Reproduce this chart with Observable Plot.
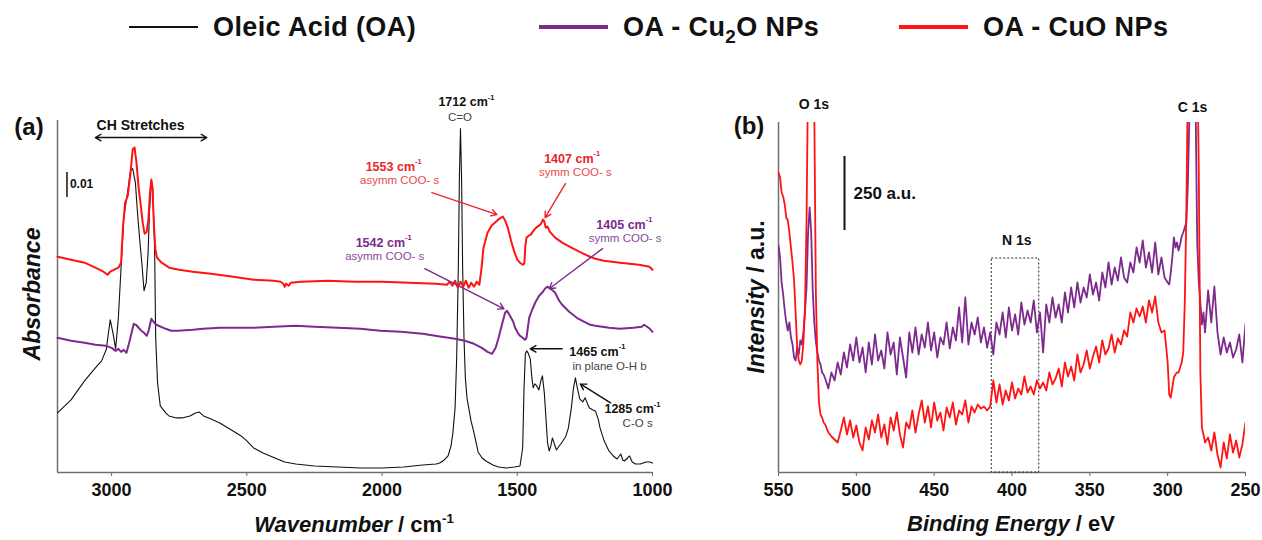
<!DOCTYPE html>
<html><head><meta charset="utf-8">
<script src="https://cdn.jsdelivr.net/npm/d3@7"></script>
<script src="https://cdn.jsdelivr.net/npm/@observablehq/plot@0.6"></script>
<style>
body{margin:0;background:#fff;}
#root{position:relative;width:1262px;height:540px;overflow:hidden;background:#fff;font-family:"Liberation Sans",Arial,Helvetica,sans-serif;color:#111;}
.abs{position:absolute;white-space:nowrap;}
.leg{position:absolute;top:7px;height:40px;display:flex;align-items:center;font-size:27px;font-weight:bold;letter-spacing:0.4px;}
.leg .sw{width:69px;margin-right:15px;}
.leg sub{font-size:0.7em;vertical-align:-0.35em;line-height:0;}
.panel{position:absolute;top:80px;}
.ytitle{position:absolute;white-space:nowrap;font-weight:bold;font-size:23px;transform:translate(-50%,-50%) rotate(-90deg);}
.xtitle{position:absolute;white-space:nowrap;font-weight:bold;font-size:22px;transform:translate(-50%,-50%);}
.it{font-style:italic;}
sup{font-size:0.6em;vertical-align:0.7em;line-height:0;}
.tag{position:absolute;font-weight:bold;font-size:24px;transform:translate(-50%,-50%);}
</style></head>
<body>
<div id="root">
  <div id="legend"></div>
  <div class="tag" style="left:29px;top:127px">(a)</div>
  <div class="tag" style="left:749px;top:126px">(b)</div>
  <div class="ytitle it" style="left:32px;top:294px">Absorbance</div>
  <div class="ytitle" style="left:756px;top:297px"><span class="it">Intensity</span> / a.u.</div>
  <div class="xtitle" style="left:354px;top:525px"><span class="it">Wavenumber</span> / cm<sup>-1</sup></div>
  <div class="xtitle" style="left:1011px;top:524px"><span class="it">Binding Energy</span> / eV</div>
  <div id="pa" class="panel" style="left:0px"></div>
  <div id="pb" class="panel" style="left:690px"></div>
</div>
<script>
// ---------- Legend ----------
const seriesNames = ["Oleic Acid (OA)", "OA - Cu<sub>2</sub>O NPs", "OA - CuO NPs"];
const seriesKeys = ["OA", "Cu2O", "CuO"];
const seriesColors = {OA: "#111111", Cu2O: "#7d2a8e", CuO: "#ff1414"};

// ---------- (a) FTIR spectra: [wavenumber cm-1, absorbance (a.u., 25 = 0.01)] ----------
const oaSpectrum = [
[3200,55],[3150,68],[3100,87],[3060,100],[3037,107],[3020,118],[3005,148],[2995,135],[2985,119],[2975,150],
[2965,200],[2955,250],[2940,277],[2930,297],[2922,299],[2912,285],[2904,254],[2895,225],[2888,204],[2880,177],
[2872,185],[2865,215],[2860,255],[2853,287],[2848,280],[2841,220],[2837,130],[2830,85],[2820,62],[2800,55],
[2788,52],[2760,50],[2740,50],[2710,52],[2690,55],[2677,56],[2660,52],[2632,49],[2600,45],[2569,40],
[2545,36],[2521,32],[2500,27],[2475,20],[2440,15],[2396,10],[2360,6],[2319,4],[2250,2],[2163,1],
[2080,0],[2000,0],[1920,1],[1850,3],[1800,4],[1787,5],[1770,8],[1756,12],[1745,22],[1738,35],
[1730,60],[1724,110],[1718,200],[1714,290],[1710,339],[1706,290],[1702,200],[1697,130],[1692,90],[1686,70],
[1671,47],[1660,35],[1652,25],[1645,16],[1630,10],[1616,7],[1590,3],[1569,1],[1540,0],[1510,1],
[1490,2],[1480,20],[1475,80],[1470,114],[1465,117],[1460,115],[1452,109],[1446,90],[1441,80],[1435,84],
[1428,82],[1420,78],[1412,88],[1407,92],[1400,75],[1394,50],[1388,25],[1382,17],[1376,22],[1370,30],
[1363,24],[1355,18],[1345,22],[1334,26],[1320,32],[1311,40],[1300,60],[1292,80],[1285,90],[1278,80],
[1269,69],[1258,66],[1249,70],[1240,64],[1233,60],[1220,58],[1211,57],[1200,48],[1194,40],[1180,28],
[1161,17],[1145,12],[1131,9],[1117,14],[1110,8],[1104,7],[1092,10],[1085,12],[1075,6],[1063,4],
[1045,4],[1024,6],[1010,6],[1000,5]];

const cu2oSpectrum = [
[3200,130],[3150,127],[3100,125],[3060,123],[3022,122],[3000,120],[2985,117],[2975,119],[2965,116],[2955,118],
[2945,115],[2935,125],[2927,134],[2918,144],[2910,143],[2900,140],[2890,137],[2880,135],[2870,132],[2862,138],
[2853,149],[2845,146],[2835,143],[2826,142],[2800,139],[2780,137],[2755,137],[2700,138],[2662,139],[2600,140],
[2475,140],[2400,141],[2319,142],[2250,141],[2162,140],[2080,139],[2006,137],[1930,136],[1850,134],[1780,131],
[1730,129],[1694,127],[1660,124],[1631,120],[1610,116],[1593,114],[1580,120],[1569,130],[1555,145],[1545,155],
[1538,157],[1527,152],[1515,146],[1508,140],[1498,135],[1490,132],[1480,130],[1472,128],[1466,130],[1456,150],
[1445,158],[1432,166],[1419,172],[1405,176],[1398,179],[1389,181],[1382,180],[1372,178],[1360,175],[1345,167],
[1334,163],[1308,156],[1280,150],[1259,147],[1230,143],[1211,142],[1161,140],[1120,139],[1070,140],[1040,141],
[1031,143],[1020,141],[1010,139],[1000,136]];

const cuoSpectrum = [
[3200,211],[3150,208],[3100,205],[3060,200],[3030,196],[3015,193],[3005,196],[2990,198],[2975,200],[2965,205],
[2958,240],[2950,265],[2940,272],[2930,295],[2922,318],[2915,320],[2908,305],[2900,280],[2892,262],[2885,245],
[2878,234],[2870,236],[2864,248],[2858,275],[2853,288],[2849,280],[2843,240],[2838,218],[2832,210],[2815,205],
[2787,200],[2750,198],[2700,196],[2632,194],[2550,191],[2475,188],[2400,187],[2375,186],[2365,184],[2360,181],
[2355,184],[2345,182],[2338,185],[2300,186],[2200,187],[2100,186],[2000,186],[1900,185],[1800,184],[1760,183],
[1750,186],[1740,182],[1730,187],[1720,180],[1710,186],[1700,181],[1690,187],[1680,180],[1670,185],[1660,181],
[1650,186],[1640,183],[1632,200],[1625,220],[1610,235],[1595,242],[1575,247],[1560,250],[1553,251],[1545,247],
[1535,240],[1522,226],[1510,215],[1500,208],[1490,205],[1480,203],[1474,204],[1470,222],[1466,230],[1458,232],
[1450,233],[1440,237],[1430,240],[1420,242],[1412,244],[1405,248],[1400,246],[1395,240],[1388,241],[1380,236],
[1360,230],[1334,225],[1300,220],[1271,216],[1240,212],[1211,209],[1180,207],[1150,206],[1120,205],[1085,204],
[1050,203],[1030,202],[1011,201],[1000,198]];

const ftirTicks = [3000, 2500, 2000, 1500, 1000];

const ftirPeakLabels = [
  {label: "1712 cm^-1", wn: 1688, v: 365, series: "OA"},
  {label: "1553 cm^-1", wn: 1957, v: 301, series: "CuO"},
  {label: "1407 cm^-1", wn: 1297, v: 309, series: "CuO"},
  {label: "1542 cm^-1", wn: 1994, v: 225, series: "Cu2O"},
  {label: "1405 cm^-1", wn: 1104, v: 243, series: "Cu2O"},
  {label: "1465 cm^-1", wn: 1204, v: 116, series: "OA"},
  {label: "1285 cm^-1", wn: 1074, v: 59, series: "OA"}
];
const ftirModeLabels = [
  {label: "C=O", wn: 1712, v: 350, series: "OA"},
  {label: "asymm COO- s", wn: 1935, v: 287, series: "CuO"},
  {label: "symm COO- s", wn: 1285, v: 295, series: "CuO"},
  {label: "asymm COO- s", wn: 1990, v: 211, series: "Cu2O"},
  {label: "symm COO- s", wn: 1101, v: 229, series: "Cu2O"},
  {label: "in plane O-H b", wn: 1159, v: 102, series: "OA"},
  {label: "C-O s", wn: 1055, v: 45, series: "OA"}
];
const ftirArrows = [
  {wn1: 1816, v1: 275, wn2: 1575, v2: 253, series: "CuO"},
  {wn1: 1322, v1: 284, wn2: 1397, v2: 250, series: "CuO"},
  {wn1: 1842, v1: 199, wn2: 1549, v2: 159, series: "Cu2O"},
  {wn1: 1185, v1: 219, wn2: 1382, v2: 179, series: "Cu2O"},
  {wn1: 1334, v1: 119, wn2: 1452, v2: 119, series: "OA"},
  {wn1: 1155, v1: 65, wn2: 1267, v2: 84, series: "OA"}
];
const chStretch = {label: "CH Stretches", wn: 2893, v: 342, from: 3060, to: 2648, center: 2854, arrowV: 330};
const ftirScaleBar = {label: "0.01", wn: 3165, v1: 270, v2: 295, textWn: 3154, textV: 283};

// ---------- (b) XPS survey: binding energy (eV) and intensity (a.u., 74 = 250 a.u.) ----------
const xpsEV = [
550,549,548,547,546,545,544,543,542,541,540,539,538,537,536,535,534,533,532,531,530,529,528,527,526,525,524,523,522,521,520,
518,516,514,512,510,508,506,504,502,500,498,496,494,492,490,488,486,484,482,480,
478,476,474,472,470,468,466,464,462,460,458,456,454,452,450,448,446,444,442,440,
438,436,434,432,430,428,426,424,422,420,418,416,414,412,410,408,406,404,402,400,
398,396,394,392,390,388,386,384,382,380,378,376,374,372,370,368,366,364,362,360,
358,356,354,352,350,348,346,344,342,340,338,336,334,332,330,328,326,324,322,320,
318,316,314,312,310,308,306,304,302,300,
299,298,297,296,295,294,293,292,291,290,289,288,287,286,285,284,283,282,281,280,279,278,277,276,
274,272,270,268,266,264,262,260,258,256,254,252,250];

const xpsCuO = [
300,295,280,276,268,255,252,240,225,210,192,160,125,112,108,112,130,165,250,400,420,420,400,360,180,110,70,58,55,50,48,
40,36,33,30,42,55,38,52,35,47,30,22,45,33,52,40,58,35,48,28,
55,42,60,38,25,50,44,62,40,58,72,50,66,45,70,52,60,42,65,55,
70,48,62,58,72,50,66,60,68,64,66,62,66,92,70,88,68,82,72,90,
74,84,78,96,80,86,78,92,84,90,82,100,88,94,104,86,110,96,106,92,
118,100,108,122,104,116,126,110,132,118,124,138,120,134,128,142,136,160,150,164,
156,166,150,172,160,176,150,140,142,110,
78,75,85,95,98,100,100,105,110,120,170,260,400,420,420,420,420,420,420,300,100,45,38,30,
35,22,40,18,5,30,14,38,20,32,15,28,50];

const xpsCu2O = [
227,215,190,178,162,150,142,150,135,128,115,112,125,118,132,128,140,160,185,240,265,240,182,150,131,120,112,108,100,98,94,
84,100,92,110,98,120,105,128,112,135,110,125,100,130,108,138,112,122,104,140,
118,130,98,135,115,95,140,120,145,118,138,125,150,122,140,115,135,128,150,124,
145,132,165,130,175,128,150,138,155,130,145,125,140,118,150,138,160,135,165,142,
158,138,170,148,162,150,172,140,160,120,168,150,175,155,168,150,180,160,185,165,
190,170,185,175,198,178,190,172,200,185,210,188,205,192,215,195,190,210,200,225,
210,232,205,220,200,230,198,215,195,190,
188,200,215,235,225,230,222,228,236,240,245,250,290,360,420,420,420,360,230,190,170,148,160,140,
182,150,186,140,118,135,120,130,115,123,138,110,149];

const xpsTicks = [550, 500, 450, 400, 350, 300, 250];
const xpsLabels = [
  {label: "O 1s", ev: 527.3, v: 368},
  {label: "C 1s", ev: 284, v: 365},
  {label: "N 1s", ev: 397, v: 232}
];
const xpsWindow = {ev1: 413, ev2: 382.5, v1: 0, v2: 214};
const xpsScaleBar = {label: "250 a.u.", ev: 507.6, v1: 242, v2: 316, textEv: 501.8, textV: 279};

// ---------- rendering ----------
const fontFam = '"Liberation Sans", Arial, Helvetica, sans-serif';
const labelColor = {OA: "#111111", Cu2O: "#7a2a8c", CuO: "#e8262a"};
const modeColor = {OA: "#444444", Cu2O: "#8a4a9a", CuO: "#ea4a4a"};

const legend = document.getElementById("legend");
const legLeft = [129, 539, 899];
seriesKeys.forEach((k, i) => {
  const d = document.createElement("div");
  d.className = "leg";
  d.style.left = legLeft[i] + "px";
  const sw = document.createElement("div");
  sw.className = "sw";
  sw.style.borderTop = (k === "OA" ? 2 : 4) + "px solid " + seriesColors[k];
  const t = document.createElement("span");
  t.innerHTML = seriesNames[i];
  d.appendChild(sw); d.appendChild(t);
  legend.appendChild(d);
});

const rows = arr => arr.map(([x, y]) => ({x, y}));

function fixSup(el) {
  const s = el.textContent;
  const i = s.indexOf("^-1");
  if (i < 0) return;
  el.textContent = s.slice(0, i);
  const sp = document.createElementNS("http://www.w3.org/2000/svg", "tspan");
  sp.setAttribute("dy", "-0.85em");
  sp.style.fontSize = "0.6em";
  sp.textContent = "-1";
  el.appendChild(sp);
}
function supify(svg) {
  svg.querySelectorAll("text").forEach(t => {
    const ts = t.querySelectorAll("tspan");
    if (ts.length) ts.forEach(fixSup); else fixSup(t);
  });
}

const plotA = Plot.plot({
  width: 690, height: 460,
  marginLeft: 57, marginRight: 38, marginTop: 40, marginBottom: 68,
  x: {domain: [3200, 1000]},
  y: {domain: [-4.5, 347], axis: null},
  style: {fontFamily: fontFam, fontSize: "18px", fontWeight: "bold", color: "#111", background: "transparent", overflow: "visible"},
  marks: [
    Plot.axisX({ticks: ftirTicks, tickFormat: d => String(d), tickSize: 4, tickPadding: 7, label: null, stroke: "#666"}),
    Plot.ruleY([-4.5], {stroke: "#6f6f6f", strokeWidth: 1.5}),
    Plot.ruleX([3200], {stroke: "#6f6f6f", strokeWidth: 1.5}),
    Plot.line(rows(oaSpectrum), {x: "x", y: "y", stroke: seriesColors.OA, strokeWidth: 1.1}),
    Plot.line(rows(cu2oSpectrum), {x: "x", y: "y", stroke: seriesColors.Cu2O, strokeWidth: 2}),
    Plot.line(rows(cuoSpectrum), {x: "x", y: "y", stroke: seriesColors.CuO, strokeWidth: 2}),
    Plot.arrow(ftirArrows, {x1: "wn1", y1: "v1", x2: "wn2", y2: "v2", stroke: d => labelColor[d.series], strokeWidth: 1.4, headLength: 7}),
    Plot.text(ftirPeakLabels, {x: "wn", y: "v", text: "label", fill: d => labelColor[d.series], fontSize: 12.5, fontWeight: "bold"}),
    Plot.text(ftirModeLabels, {x: "wn", y: "v", text: "label", fill: d => modeColor[d.series], fontSize: 11.5, fontWeight: "normal"}),
    Plot.text([chStretch], {x: "wn", y: "v", text: "label", fill: "#111", fontSize: 14, fontWeight: "bold"}),
    Plot.arrow([chStretch], {x1: "center", x2: "from", y1: "arrowV", y2: "arrowV", stroke: "#111", strokeWidth: 1.4, headLength: 7}),
    Plot.arrow([chStretch], {x1: "center", x2: "to", y1: "arrowV", y2: "arrowV", stroke: "#111", strokeWidth: 1.4, headLength: 7}),
    Plot.ruleX([ftirScaleBar], {x: "wn", y1: "v1", y2: "v2", stroke: "#111", strokeWidth: 1.5}),
    Plot.text([ftirScaleBar], {x: "textWn", y: "textV", text: "label", textAnchor: "start", fill: "#111", fontSize: 12, fontWeight: "bold"})
  ]
});
supify(plotA);
document.getElementById("pa").appendChild(plotA);

const xpsRows = key => xpsEV.map((e, i) => ({x: e, y: (key === "CuO" ? xpsCuO : xpsCu2O)[i]}));

const plotB = Plot.plot({
  width: 572, height: 460,
  marginLeft: 88, marginRight: 17, marginTop: 42, marginBottom: 68,
  x: {domain: [550, 250]},
  y: {domain: [0, 350], axis: null},
  style: {fontFamily: fontFam, fontSize: "18px", fontWeight: "bold", color: "#111", background: "transparent", overflow: "visible"},
  marks: [
    Plot.axisX({ticks: xpsTicks, tickFormat: d => String(d), tickSize: 4, tickPadding: 7, label: null, stroke: "#666"}),
    Plot.ruleY([0], {stroke: "#6f6f6f", strokeWidth: 1.5}),
    Plot.ruleX([550], {stroke: "#6f6f6f", strokeWidth: 1.5}),
    Plot.rect([xpsWindow], {x1: "ev1", x2: "ev2", y1: "v1", y2: "v2", fill: "none", stroke: "#222", strokeWidth: 1, strokeDasharray: "2,2"}),
    Plot.line(xpsRows("Cu2O"), {x: "x", y: "y", stroke: seriesColors.Cu2O, strokeWidth: 1.8, clip: true}),
    Plot.line(xpsRows("CuO"), {x: "x", y: "y", stroke: seriesColors.CuO, strokeWidth: 1.8, clip: true}),
    Plot.text(xpsLabels, {x: "ev", y: "v", text: "label", fill: "#111", fontSize: 14, fontWeight: "bold"}),
    Plot.ruleX([xpsScaleBar], {x: "ev", y1: "v1", y2: "v2", stroke: "#111", strokeWidth: 2}),
    Plot.text([xpsScaleBar], {x: "textEv", y: "textV", text: "label", textAnchor: "start", fill: "#111", fontSize: 17, fontWeight: "bold"})
  ]
});
document.getElementById("pb").appendChild(plotB);
</script>
</body></html>
